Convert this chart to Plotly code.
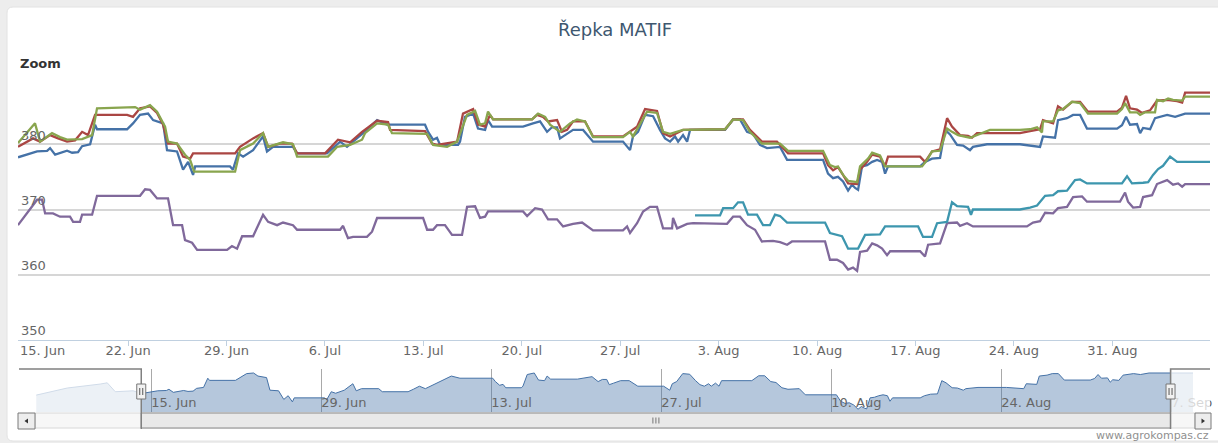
import plotly.graph_objects as go
import pandas as pd

W, H = 1218, 443
START = pd.Timestamp("2015-06-15")   # days below are counted from this date

# ---------------- data (days since 15 Jun, price EUR/t) ----------------
blue_day = [-0.83, 0.53, 1.24, 1.45, 1.81, 2.66, 3.02, 3.44, 3.73, 4.30, 4.65, 4.79, 6.93, 7.35, 7.85, 8.42, 8.78, 9.49, 9.77, 10.48,
            10.91, 11.27, 11.62, 11.77, 14.25, 14.46, 14.82, 15.18, 15.89, 16.60, 16.88, 17.31, 18.73, 19.02, 21.15, 21.58, 22.08, 22.57, 23.71, 24.71,
            25.42, 28.12, 28.34, 28.69, 28.97, 29.19, 30.47, 30.61, 30.96, 31.54, 31.89, 32.39, 32.60, 32.89, 35.09, 35.80, 36.30, 36.80, 37.15, 37.51,
            37.72, 38.08, 38.65, 39.36, 40.07, 42.20, 42.70, 42.91, 43.27, 43.77, 44.34, 44.83, 45.19, 45.55, 45.90, 46.12, 46.47, 46.76, 46.97, 49.46,
            50.03, 50.52, 51.02, 51.45, 51.94, 52.44, 53.37, 53.87, 56.43, 56.78, 57.14, 57.49, 57.85, 58.21, 58.49, 58.71, 58.92, 59.20, 59.56, 59.92,
            60.27, 60.63, 60.84, 61.05, 63.33, 63.68, 64.18, 64.75, 65.11, 65.46, 65.96, 66.39, 66.88, 67.09, 68.09, 70.43, 71.36, 71.86, 72.07, 72.93,
            73.14, 73.78, 74.21, 74.71, 75.20, 77.34, 77.69, 77.98, 78.26, 78.76, 78.98, 79.19, 79.69, 80.04, 80.90, 81.47, 82.18, 84.10]
blue_val = [378.0, 378.9, 379.0, 379.4, 378.4, 379.0, 378.7, 378.8, 379.7, 380.0, 383.0, 382.3, 382.3, 383.2, 384.5, 384.7, 383.7, 383.2, 379.1, 378.9,
            376.1, 377.3, 375.3, 376.6, 376.6, 376.1, 378.6, 378.1, 379.1, 381.2, 378.9, 379.6, 379.6, 378.6, 378.6, 379.4, 380.4, 379.6, 381.7, 383.7,
            383.0, 383.0, 381.9, 380.7, 381.0, 379.9, 379.9, 380.4, 384.2, 384.7, 382.4, 382.2, 383.7, 382.7, 382.7, 383.2, 383.5, 381.9, 382.6, 382.6,
            380.9, 381.4, 382.2, 382.2, 380.4, 380.4, 379.1, 381.2, 381.9, 384.5, 384.3, 382.2, 380.9, 380.4, 381.2, 380.4, 381.4, 380.4, 382.2, 382.2,
            383.8, 383.8, 381.9, 381.6, 379.9, 379.4, 379.6, 377.6, 377.6, 375.5, 374.8, 375.0, 374.3, 372.9, 373.8, 373.3, 373.0, 376.6, 376.8, 377.3,
            377.6, 377.3, 375.5, 376.6, 376.6, 377.3, 377.8, 377.9, 382.2, 381.5, 379.9, 379.8, 379.1, 379.6, 380.0, 380.0, 379.7, 379.6, 381.2, 381.0,
            383.7, 384.0, 384.5, 384.5, 382.4, 382.4, 382.9, 384.2, 383.0, 383.1, 381.7, 382.5, 382.3, 384.0, 384.5, 384.2, 384.7, 384.7]

red_day = [-0.83, 0.24, 0.74, 1.45, 2.02, 2.66, 3.23, 3.73, 4.15, 4.65, 6.93, 7.35, 7.85, 8.56, 9.06, 9.49, 9.84, 10.48, 10.91, 11.41,
           11.62, 14.61, 14.96, 15.89, 16.60, 16.96, 17.81, 18.66, 19.02, 21.01, 21.93, 22.79, 23.64, 24.71, 25.49, 25.63, 28.12, 28.62, 28.97, 29.69,
           30.40, 30.82, 31.54, 31.89, 32.39, 32.74, 32.96, 35.73, 36.09, 36.51, 36.87, 37.51, 37.86, 38.22, 38.65, 39.50, 40.07, 42.20, 42.70, 43.20,
           43.77, 44.62, 45.05, 45.55, 46.47, 49.46, 50.03, 50.74, 51.23, 52.08, 53.15, 53.94, 56.43, 56.78, 57.14, 57.49, 57.85, 58.21, 58.85, 59.06,
           59.56, 59.92, 60.48, 60.84, 61.05, 63.33, 63.68, 64.18, 64.75, 64.96, 65.25, 65.60, 66.17, 66.74, 67.02, 67.38, 70.43, 71.15, 71.86, 72.07,
           72.79, 73.14, 73.50, 74.14, 74.71, 75.27, 77.34, 77.69, 77.98, 78.26, 78.76, 79.12, 79.69, 80.18, 80.90, 81.61, 81.97, 82.18, 84.10]
red_val = [379.6, 380.9, 380.4, 381.4, 380.9, 380.4, 380.6, 381.9, 381.4, 384.5, 384.5, 384.2, 385.5, 385.8, 384.8, 383.0, 380.1, 380.1, 378.1, 377.8,
           378.6, 378.6, 379.6, 380.9, 381.7, 379.6, 380.1, 380.1, 378.6, 378.6, 380.7, 380.3, 381.9, 383.6, 383.4, 382.2, 382.0, 380.1, 379.9, 380.1,
           380.4, 384.7, 385.4, 383.0, 382.7, 384.5, 383.8, 383.8, 384.5, 384.2, 383.5, 383.7, 381.9, 382.2, 383.5, 383.5, 381.2, 381.2, 381.9, 382.7,
           385.4, 385.1, 381.7, 381.2, 382.2, 382.3, 383.8, 383.8, 382.2, 380.4, 380.4, 378.6, 378.6, 376.8, 376.0, 376.5, 375.3, 374.0, 373.9, 376.1,
           377.3, 378.4, 378.1, 376.6, 378.1, 378.1, 377.3, 378.9, 379.2, 381.2, 384.0, 382.7, 381.4, 381.3, 381.0, 381.7, 381.7, 382.0, 382.3, 383.7,
           383.2, 385.8, 385.3, 386.5, 386.5, 385.0, 385.0, 385.6, 387.4, 385.5, 385.3, 384.8, 385.2, 386.7, 386.8, 386.6, 386.4, 387.9, 387.9]

green_day = [-0.83, 0.38, 0.74, 1.59, 2.16, 2.66, 3.73, 4.44, 4.79, 7.50, 7.85, 8.56, 9.06, 9.63, 9.84, 10.48, 11.05, 11.41, 11.70, 14.61,
             14.96, 15.89, 16.60, 16.96, 18.02, 18.73, 19.02, 21.22, 21.86, 22.79, 23.64, 23.85, 24.71, 25.49, 25.77, 28.27, 28.69, 29.69, 30.40, 31.11,
             31.68, 32.03, 32.39, 32.60, 32.96, 35.73, 36.16, 36.66, 37.01, 37.72, 38.43, 38.93, 39.50, 40.07, 42.20, 42.70, 42.91, 43.41, 43.91, 44.62,
             45.05, 45.55, 46.47, 49.46, 50.03, 50.74, 51.23, 52.08, 53.37, 53.94, 56.43, 56.92, 57.28, 57.49, 57.85, 58.21, 58.85, 59.06, 59.63, 59.92,
             60.48, 60.84, 63.47, 63.83, 64.18, 64.75, 64.96, 65.25, 65.60, 66.03, 66.88, 67.59, 68.30, 70.43, 71.15, 71.65, 72.00, 72.07, 72.79, 73.14,
             73.50, 74.14, 74.71, 75.27, 77.34, 77.69, 77.91, 78.26, 78.76, 78.98, 79.33, 80.04, 80.18, 80.61, 80.97, 81.32, 81.97, 82.18, 84.10]
green_val = [380.2, 383.2, 380.4, 381.7, 381.1, 380.7, 380.8, 381.4, 385.5, 385.7, 385.3, 386.0, 385.0, 382.7, 380.4, 380.1, 378.4, 377.6, 375.8, 375.8,
             379.1, 380.1, 381.7, 379.6, 380.3, 380.0, 378.1, 378.1, 379.6, 379.9, 380.7, 381.7, 383.2, 383.0, 381.7, 381.6, 379.9, 379.6, 380.4, 384.5,
             385.1, 383.0, 383.2, 385.0, 383.8, 383.8, 384.7, 384.2, 383.0, 381.9, 383.2, 383.8, 383.5, 381.1, 381.1, 381.9, 381.2, 383.2, 385.0, 384.8,
             381.9, 381.6, 382.2, 382.3, 383.8, 383.7, 381.9, 380.1, 380.1, 379.0, 379.0, 376.8, 376.5, 376.6, 375.3, 374.4, 374.2, 376.6, 377.8, 378.7,
             378.3, 376.6, 376.6, 377.6, 378.9, 379.0, 380.4, 382.4, 381.9, 381.4, 381.0, 381.6, 382.2, 382.2, 382.3, 382.6, 381.8, 383.5, 383.5, 385.2,
             385.4, 386.5, 386.3, 384.7, 384.7, 385.4, 386.3, 384.9, 384.9, 384.5, 384.9, 384.9, 386.8, 386.6, 387.0, 386.8, 386.7, 387.3, 387.3]

purple_day = [-0.83, 0.53, 0.88, 1.10, 1.66, 2.16, 2.87, 3.09, 3.58, 3.73, 4.44, 4.79, 7.85, 8.21, 8.56, 9.06, 9.84, 10.20, 10.84, 11.05,
              11.55, 11.91, 14.04, 14.39, 14.75, 15.11, 15.89, 16.60, 16.96, 17.60, 18.02, 18.73, 19.02, 22.08, 22.29, 22.64, 23.00, 23.99, 24.35, 24.71,
              27.98, 28.27, 28.69, 28.97, 29.54, 30.04, 30.75, 31.11, 31.68, 32.03, 32.39, 32.60, 35.09, 35.38, 35.95, 36.44, 36.87, 37.51, 37.94, 38.29,
              38.65, 39.29, 40.07, 42.20, 42.49, 42.70, 43.20, 43.63, 44.12, 44.62, 45.05, 45.69, 45.76, 46.05, 46.76, 47.18, 49.10, 49.60, 50.03, 50.52,
              51.02, 51.59, 52.08, 52.44, 52.87, 53.37, 53.87, 54.22, 56.57, 56.92, 57.42, 57.85, 58.21, 58.56, 58.85, 59.06, 59.56, 59.92, 60.27, 60.63,
              60.98, 61.20, 63.33, 63.68, 63.90, 64.75, 65.25, 65.96, 66.17, 66.67, 67.09, 70.93, 71.36, 71.86, 72.22, 72.79, 73.14, 73.78, 74.21, 74.85,
              75.20, 77.55, 77.91, 78.12, 78.48, 78.98, 79.19, 79.83, 80.18, 80.90, 81.32, 81.68, 81.97, 82.18, 84.10]
purple_val = [367.6, 371.5, 371.5, 369.4, 369.4, 368.9, 368.9, 368.1, 368.1, 369.2, 369.2, 372.1, 372.1, 373.1, 373.0, 371.7, 371.7, 367.6, 367.6, 365.3,
              364.9, 363.8, 363.8, 364.4, 364.0, 365.9, 365.9, 369.2, 368.1, 367.6, 368.0, 367.6, 366.9, 366.9, 367.5, 365.6, 365.8, 365.8, 366.6, 368.7,
              368.7, 366.9, 366.9, 367.6, 367.6, 366.1, 366.1, 370.4, 370.5, 368.7, 368.9, 369.7, 369.7, 369.0, 370.2, 370.0, 368.5, 368.5, 367.4, 367.6,
              367.8, 368.0, 366.8, 366.8, 367.4, 366.4, 367.9, 369.7, 370.4, 370.4, 367.1, 367.1, 368.7, 367.1, 367.8, 367.9, 367.9, 367.8, 368.9, 368.9,
              367.6, 366.9, 365.1, 365.1, 365.2, 365.0, 364.6, 365.1, 365.1, 362.3, 362.3, 361.8, 360.8, 361.1, 360.6, 363.5, 363.7, 364.8, 364.5, 364.0,
              363.0, 363.6, 363.6, 362.8, 364.6, 364.8, 367.9, 368.0, 367.5, 367.9, 367.4, 367.4, 368.0, 368.2, 369.5, 369.4, 370.2, 370.4, 371.9, 372.0,
              371.2, 371.2, 372.6, 371.2, 370.3, 370.4, 371.9, 372.2, 373.9, 374.5, 373.8, 374.0, 373.5, 373.9, 373.9]

teal_day = [47.32, 49.10, 49.32, 50.03, 50.38, 50.74, 51.09, 51.73, 52.16, 52.65, 53.01, 53.37, 53.87, 56.57, 56.92, 57.78, 58.21, 58.92, 59.42, 60.48,
            60.84, 63.19, 63.54, 64.18, 64.54, 65.25, 65.60, 65.96, 66.74, 66.95, 67.09, 70.43, 71.15, 71.65, 72.22, 72.79, 73.14, 73.78, 74.35, 74.71,
            75.20, 77.69, 78.05, 78.40, 79.19, 79.55, 79.90, 80.26, 80.61, 81.11, 81.61, 84.10]
teal_val = [369.1, 369.1, 370.2, 370.2, 371.1, 371.1, 369.2, 369.2, 367.6, 367.6, 369.2, 369.0, 368.0, 368.0, 366.4, 365.9, 364.0, 364.0, 366.1, 366.2,
            367.4, 367.4, 365.8, 365.8, 367.9, 368.1, 371.1, 370.5, 370.4, 369.2, 370.0, 370.0, 370.3, 370.6, 372.1, 372.2, 372.8, 372.9, 374.5, 374.6,
            374.0, 374.0, 375.1, 374.0, 374.1, 374.2, 375.3, 376.2, 376.7, 378.1, 377.3, 377.3]

# navigator shows the first (blue) series over a wider period
nav_pre_day = [-9.48, -6.93, -4.21, -3.63, -2.97, -1.5]
nav_pre_val = [377.5, 379.8, 381.1, 381.5, 378.6, 378.9]
nav_post_day = [85.8]
nav_post_val = [384.7]

series = [
    ("blue", blue_day, blue_val, "#4572A7"),
    ("red", red_day, red_val, "#AA4643"),
    ("green", green_day, green_val, "#89A54E"),
    ("purple", purple_day, purple_val, "#80699B"),
    ("teal", teal_day, teal_val, "#3D96AE"),
]

# visible window (days) and navigator window (days)
VIEW = (-0.83, 83.95)
NAV = (-10.9, 87.2)
TICK_FMT = "%-d. %b"


def to_dt(days):
    return [START + pd.Timedelta(days=d) for d in days]


def px(x):
    return x / W


def py(y):
    return 1 - y / H


FONT = "DejaVu Sans"
fig = go.Figure()

for name, d, v, c in series:
    fig.add_trace(go.Scatter(x=to_dt(d), y=v, mode="lines", name=name,
                             line=dict(color=c, width=2.3), xaxis="x", yaxis="y",
                             hoverinfo="skip"))

nav_day = nav_pre_day + blue_day + nav_post_day
nav_val = nav_pre_val + blue_val + nav_post_val
fig.add_trace(go.Scatter(x=to_dt(nav_day), y=nav_val, mode="lines", fill="tozeroy",
                         fillcolor="rgba(69,114,167,0.40)", line=dict(color="#4572A7", width=1),
                         xaxis="x2", yaxis="y2", hoverinfo="skip"))

# main plot area pixels
L, R, T, B = 18, 1210, 79, 340
# navigator pixels
NL, NR, NT, NB = 19, 1210, 369, 412
SB_T, SB_B = 413, 428

fig.update_layout(
    width=W, height=H, autosize=False,
    margin=dict(l=0, r=0, t=0, b=0, pad=0, autoexpand=False),
    paper_bgcolor="#EDEDED", plot_bgcolor="rgba(0,0,0,0)",
    showlegend=False,
    font=dict(family=FONT, color="#666666", size=13),
    xaxis=dict(type="date", domain=[px(L), px(R)], range=to_dt(VIEW), anchor="y",
               tick0=START, dtick=7 * 86400000, tickformat=TICK_FMT, automargin=False,
               ticks="outside", ticklen=5, tickcolor="#C0D0E0", showline=True,
               linecolor="#C0D0E0", linewidth=1, showgrid=False, zeroline=False,
               ticklabelstandoff=-7, ticklabeloverflow="allow",
               tickfont=dict(size=13, color="#666666")),
    yaxis=dict(domain=[py(B), py(T)], range=[350, 390], anchor="x", automargin=False,
               tickvals=[350, 360, 370, 380, 390], ticktext=["350", "360", "370", "380", ""],
               ticklabelposition="inside top", showgrid=True, gridcolor="#D6D6D6", gridwidth=1.5,
               zeroline=False, showline=False, ticks="", tickfont=dict(size=13, color="#666666")),
    xaxis2=dict(type="date", domain=[px(NL), px(NR)], range=to_dt(NAV), anchor="y2", automargin=False,
                tick0=START, dtick=14 * 86400000, tickformat=TICK_FMT,
                ticklabelposition="inside right", ticklabeloverflow="allow",
                ticklabelstandoff=-4,
                showgrid=True, gridcolor="#A9A9A9", gridwidth=1, showline=False, zeroline=False,
                ticks="", tickfont=dict(size=13, color="#666666")),
    yaxis2=dict(domain=[py(NB), py(NT)], range=[372.0, 386.0], anchor="x2", visible=False,
                automargin=False, showgrid=False, zeroline=False),
)


def nav_x(day):
    return NL + (day - NAV[0]) / (NAV[1] - NAV[0]) * (NR - NL)


SL, SR = nav_x(VIEW[0]), nav_x(VIEW[1])

shapes = []
# white chart box with rounded corner
rr = 6
box = (f"M {px(7)},{py(7 + rr)} Q {px(7)},{py(7)} {px(7 + rr)},{py(7)} L {px(W + 5)},{py(7)} "
       f"L {px(W + 5)},{py(441)} L {px(7 + rr)},{py(441)} Q {px(7)},{py(441)} {px(7)},{py(441 - rr)} Z")
shapes.append(dict(type="path", path=box, xref="paper", yref="paper", layer="below",
                   fillcolor="#FFFFFF", line=dict(color="#E2E2E2", width=1)))

# navigator masks outside selection
for a, b in [(NL, SL), (SR, NR)]:
    shapes.append(dict(type="rect", xref="paper", yref="paper", x0=px(a), x1=px(b), y0=py(NB), y1=py(NT),
                       fillcolor="rgba(255,255,255,0.75)", line=dict(width=0), layer="above"))

# scrollbar track
shapes.append(dict(type="rect", xref="paper", yref="paper", x0=px(35), x1=px(1195), y0=py(SB_B), y1=py(SB_T),
                   fillcolor="#F7F7F7", line=dict(color="#D8D8D8", width=1), layer="above"))
# scrollbar thumb
shapes.append(dict(type="rect", xref="paper", yref="paper", x0=px(SL), x1=px(SR), y0=py(SB_B), y1=py(SB_T),
                   fillcolor="#E9E9E9", line=dict(color="#8A8A8A", width=1), layer="above"))
cx = (SL + SR) / 2
for dx in (-3, 0, 3):
    shapes.append(dict(type="line", xref="paper", yref="paper", x0=px(cx + dx), x1=px(cx + dx),
                       y0=py(417.5), y1=py(423.5), line=dict(color="#777777", width=1), layer="above"))
# scrollbar buttons
for a, b, tri in [(18, 35, "L"), (1195, 1211, "R")]:
    shapes.append(dict(type="rect", xref="paper", yref="paper", x0=px(a), x1=px(b), y0=py(SB_B + 1), y1=py(SB_T),
                       fillcolor="#EDEDED", line=dict(color="#7A7A7A", width=1), layer="above"))
    c = (a + b) / 2
    yc = (SB_T + SB_B + 1) / 2
    if tri == "L":
        p = f"M {px(c - 2)},{py(yc)} L {px(c + 1.5)},{py(yc - 2.5)} L {px(c + 1.5)},{py(yc + 2.5)} Z"
    else:
        p = f"M {px(c + 2)},{py(yc)} L {px(c - 1.5)},{py(yc - 2.5)} L {px(c - 1.5)},{py(yc + 2.5)} Z"
    shapes.append(dict(type="path", path=p, xref="paper", yref="paper", fillcolor="#333333",
                       line=dict(width=0), layer="above"))

# navigator outline
outline = (f"M {px(NL)},{py(NT)} L {px(SL)},{py(NT)} L {px(SL)},{py(SB_B + 1)} "
           f"M {px(SR)},{py(SB_B + 1)} L {px(SR)},{py(NT)} L {px(NR)},{py(NT)}")
shapes.append(dict(type="path", path=outline, xref="paper", yref="paper",
                   line=dict(color="#808080", width=1.5), layer="above"))

# handles
for hx in (SL, SR):
    shapes.append(dict(type="rect", xref="paper", yref="paper", x0=px(hx - 4.5), x1=px(hx + 4.5),
                       y0=py(399), y1=py(384), fillcolor="#F2F2F2", line=dict(color="#777777", width=1),
                       layer="above"))
    for dx in (-1.5, 1.5):
        shapes.append(dict(type="line", xref="paper", yref="paper", x0=px(hx + dx), x1=px(hx + dx),
                           y0=py(388), y1=py(395), line=dict(color="#555555", width=1), layer="above"))

fig.update_layout(shapes=shapes)

# first main-axis label (Plotly hides it at the edge); kept inside the plot like Highstock does
fig.add_annotation(text=START.strftime("%d. %b").lstrip("0"), x=to_dt([VIEW[0]])[0], xref="x",
                   y=py(350.5), yref="paper", xanchor="left", yanchor="middle", showarrow=False,
                   font=dict(family=FONT, size=13, color="#666666"))

fig.add_annotation(text="Řepka MATIF", x=px(615), y=py(30), xref="paper", yref="paper",
                   xanchor="center", yanchor="middle", showarrow=False,
                   font=dict(family=FONT, size=18, color="#3E576F"))
fig.add_annotation(text="<b>Zoom</b>", x=px(18), y=py(63), xref="paper", yref="paper",
                   xanchor="left", yanchor="middle", showarrow=False,
                   font=dict(family=FONT, size=13, color="#333333"))
fig.add_annotation(text="www.agrokompas.cz", x=px(1211), y=py(435), xref="paper", yref="paper",
                   xanchor="right", yanchor="middle", showarrow=False,
                   font=dict(family=FONT, size=11, color="#909090"))

post = (
    "document.documentElement.style.margin='0';"
    "document.documentElement.style.padding='0';"
    "document.body.style.margin='0';document.body.style.padding='0';"
    "document.body.style.overflow='hidden';"
    "var gd=document.getElementById('{plot_id}');"
    "gd.style.position='absolute';gd.style.left='0px';gd.style.top='0px';"
)
fig.write_html("out.html", config={"displayModeBar": False, "responsive": False},
               post_script=post)
